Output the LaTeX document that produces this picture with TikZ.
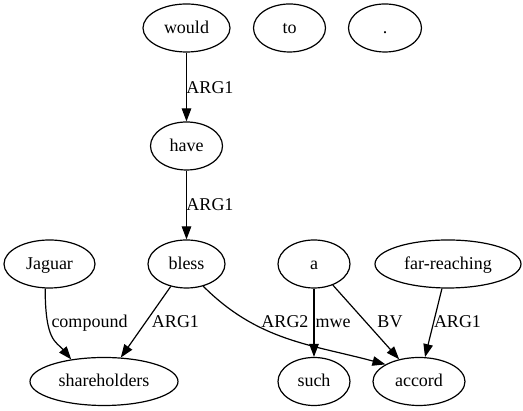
\documentclass[tikz,border=0pt]{standalone}
\usepackage{fontspec}
\setmainfont{Liberation Serif}
\usetikzlibrary{shapes.geometric,arrows.meta}

\begin{document}
\begin{tikzpicture}[
	x=1pt, y=1pt,
	word/.style={
		ellipse,
		draw,
		line width=1.2pt,
		inner sep=0pt,
		minimum height=48pt,
		font=\fontsize{18}{20}\selectfont,
		text height=13pt,
		text depth=2pt
	},
	rel/.style={
		inner sep=0pt,
		font=\fontsize{18}{20}\selectfont,
		text height=13pt,
		text depth=2pt
	},
	edge/.style={line width=1.2pt, -{Triangle[length=13pt, width=9.5pt]}},
]

\useasboundingbox (0,0) rectangle (523,411);

\pgfmathsetmacro{\rowA}{383}
\pgfmathsetmacro{\rowB}{265}
\pgfmathsetmacro{\rowC}{147}
\pgfmathsetmacro{\rowD}{29.5}

% words, top rank
\node[word, minimum width=87pt] (would) at (186.5, \rowA) {would};
\node[word, minimum width=72pt] (to) at (289.5, \rowA) {to};
\node[word, minimum width=73pt] (dot) at (385, \rowA) {.};
\node[word, minimum width=72pt] (have) at (186.5, \rowB) {have};

% words, third rank
\node[word, minimum width=91pt] (jaguar) at (49.5, \rowC) {Jaguar};
\node[word, minimum width=77pt] (bless) at (186.5, \rowC) {bless};
\node[word, minimum width=72pt] (a) at (314, \rowC) {a};
\node[word, minimum width=146pt] (far) at (448, \rowC) {far-reaching};

% words, bottom rank
\node[word, minimum width=148pt] (shareholders) at (104, \rowD) {shareholders};
\node[word, minimum width=72pt] (such) at (314, \rowD) {such};
\node[word, minimum width=92pt] (accord) at (419, \rowD) {accord};

% edges
\draw[edge] (would) -- (have);
\draw[edge] (have) -- (bless);
\draw[edge] (jaguar.-100) to[out=-90, in=130, out looseness=1.8, in looseness=0.8] (shareholders.146);
\draw[edge] (bless) -- (shareholders);
\draw[edge] (bless.-53) to[out=-45, in=165] (accord.153);
\draw[edge] (a) -- (such);
\draw[edge] (a) -- (accord);
\draw[edge] (far) -- (accord);

% relation labels
\node[rel] (lwould) at (210, 323) {ARG1};
\node[rel] (lhave) at (210, 206) {ARG1};
\node[rel] (ljaguar) at (89.5, 89) {compound};
\node[rel] (lblessA) at (175.5, 89) {ARG1};
\node[rel] (lblessB) at (285, 89) {ARG2};
\node[rel] (lsuch) at (333, 89) {mwe};
\node[rel] (la) at (390, 89) {BV};
\node[rel] (lfar) at (457.5, 89) {ARG1};

\end{tikzpicture}
\end{document}
